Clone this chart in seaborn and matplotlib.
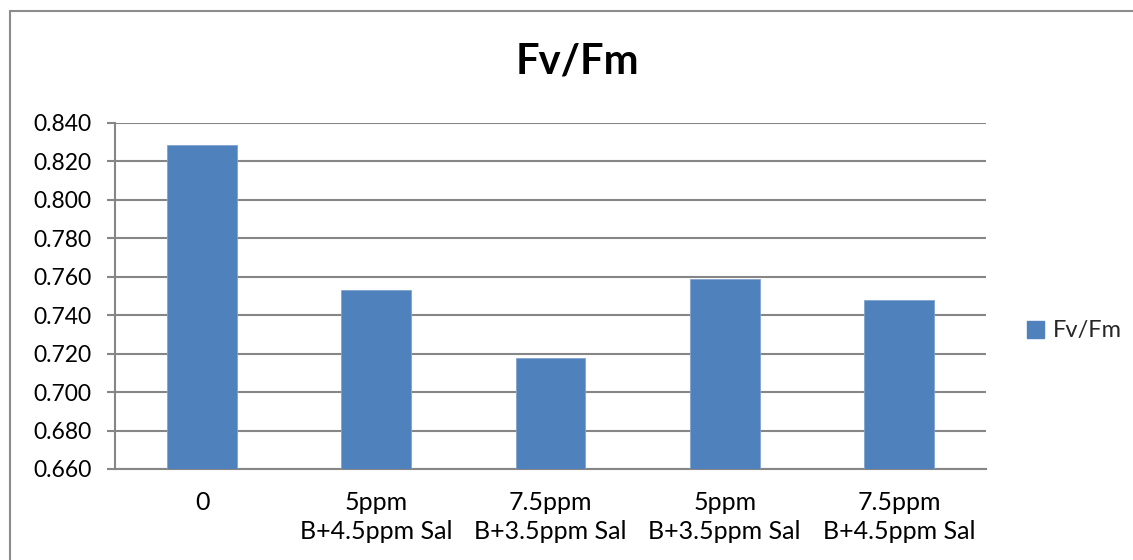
import matplotlib
matplotlib.use("Agg")
import matplotlib.pyplot as plt
import seaborn as sns
import pandas as pd
from matplotlib.lines import Line2D
from matplotlib.patches import Patch

categories = ["0", "5ppm\nB+4.5ppm Sal", "7.5ppm\nB+3.5ppm Sal", "5ppm\nB+3.5ppm Sal", "7.5ppm\nB+4.5ppm Sal"]
values = [0.8287, 0.7532, 0.7175, 0.7588, 0.7478]
yticks = [0.660, 0.680, 0.700, 0.720, 0.740, 0.760, 0.780, 0.800, 0.820, 0.840]
series_name = "Fv/Fm"
bar_color = "#4F81BD"
grid_color = "#868686"

sns.set_theme(style="white")
plt.rcParams["font.family"] = ["Lato", "DejaVu Sans"]

fig = plt.figure(figsize=(11.33, 5.6), dpi=100)
ax = fig.add_axes([115/1133, 1-469/560, (986-115)/1133, (469-123)/560])

df = pd.DataFrame({"cat": categories, "val": values})
sns.barplot(data=df, x="cat", y="val", color=bar_color, width=0.4, ax=ax,
            saturation=1, edgecolor="#7FA3CF", linewidth=0.6, zorder=3)

ax.set_ylim(0.660, 0.840)
ax.set_xlim(-0.5, len(categories) - 0.5)
ax.set_yticks(yticks)
ax.set_yticklabels([f"{v:.3f}" for v in yticks], fontsize=16.5, color="black")
ax.yaxis.grid(True, color=grid_color, linewidth=1.5, zorder=0)
ax.set_axisbelow(True)

# category boundary ticks on x-axis
ax.set_xticks([i - 0.5 for i in range(len(categories) + 1)])
ax.set_xticklabels([])
ax.set_xticks(range(len(categories)), minor=True)
ax.set_xticklabels(categories, minor=True, fontsize=18, color="black", linespacing=1.3)
ax.tick_params(axis="x", which="minor", length=0, pad=16)
ax.tick_params(axis="x", which="major", length=6, width=1.5, color=grid_color, direction="out")
ax.tick_params(axis="y", length=6, width=1.5, color=grid_color, direction="out", pad=11, left=True)
ax.set_xlabel("")
ax.set_ylabel("")

for s in ["top", "right"]:
    ax.spines[s].set_visible(False)
for s in ["left", "bottom"]:
    ax.spines[s].set_color(grid_color)
    ax.spines[s].set_linewidth(1.5)

fig.text(577/1133, 1-61/560, "Fv/Fm", ha="center", va="center",
         fontsize=30, fontweight="bold", color="black")

handles = [Patch(facecolor=bar_color, edgecolor=bar_color, label=series_name)]
fig.legend(handles=handles, loc="center left", bbox_to_anchor=(1027/1133, 1-331/560),
           frameon=False, fontsize=17, handlelength=0.7, handleheight=0.7,
           handletextpad=0.4, borderpad=0, borderaxespad=0)

# outer chart border (left and top only, as in reference crop)
fig.add_artist(Line2D([10/1133, 10/1133], [0, 1-11/560], transform=fig.transFigure,
                      color="#8C8C8C", linewidth=1.5))
fig.add_artist(Line2D([10/1133, 1], [1-11/560, 1-11/560], transform=fig.transFigure,
                      color="#8C8C8C", linewidth=1.5))

fig.savefig("out.png", dpi=100, facecolor="white")
